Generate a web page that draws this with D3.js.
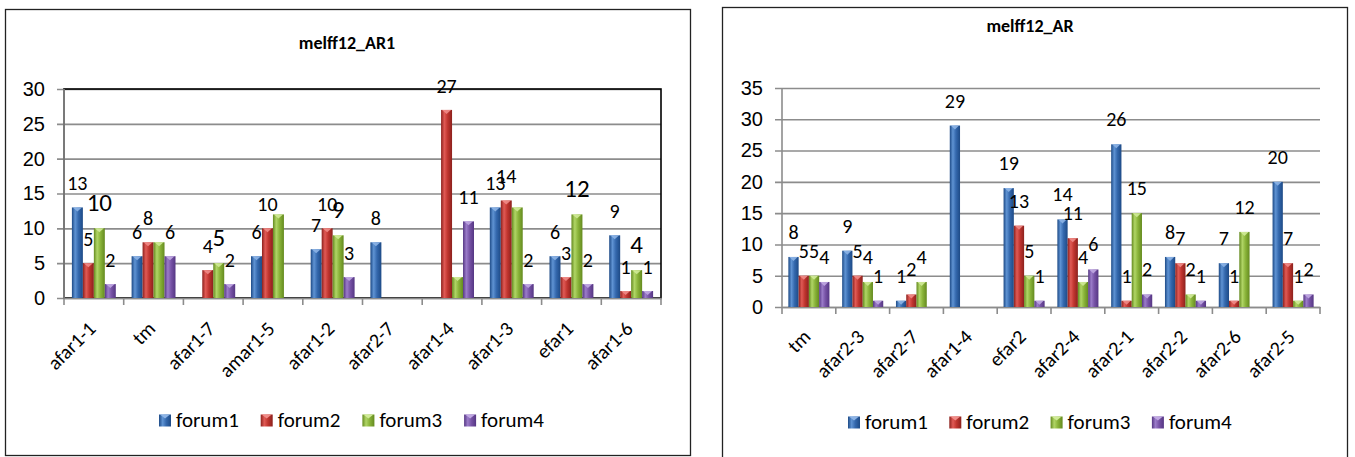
<!DOCTYPE html>
<html><head><meta charset="utf-8">
<script src="https://cdn.jsdelivr.net/npm/d3@7/dist/d3.min.js"></script>
<style>
body{margin:0;background:#fff;}
svg{display:block;font-family:Carlito,Calibri,Lato,"Open Sans",sans-serif;}
</style></head>
<body><svg id="c" width="1355" height="457"></svg>
<script>
// ---------- data ----------
const seriesNames = ["forum1","forum2","forum3","forum4"];

const leftTitle = "melff12_AR1";
const leftCategories = ["afar1-1","tm","afar1-7","amar1-5","afar1-2","afar2-7","afar1-4","afar1-3","efar1","afar1-6"];
const leftForum1 = [13,6,0,6,7,8,0,13,6,9];
const leftForum2 = [5,8,4,10,10,0,27,14,3,1];
const leftForum3 = [10,8,5,12,9,0,3,13,12,4];
const leftForum4 = [2,6,2,0,3,0,11,2,2,1];
const leftTicks = [0,5,10,15,20,25,30];
const leftHiddenLabels = [["tm","forum3"],["amar1-5","forum3"],["afar1-4","forum3"],["afar1-3","forum3"]];

const rightTitle = "melff12_AR";
const rightCategories = ["tm","afar2-3","afar2-7","afar1-4","efar2","afar2-4","afar2-1","afar2-2","afar2-6","afar2-5"];
const rightForum1 = [8,9,1,29,19,14,26,8,7,20];
const rightForum2 = [5,5,2,0,13,11,1,7,1,7];
const rightForum3 = [5,4,4,0,5,4,15,2,12,1];
const rightForum4 = [4,1,0,0,1,6,2,1,0,2];
const rightTicks = [0,5,10,15,20,25,30,35];
const rightHiddenLabels = [];

const colors = {
  forum1:{base:"#3468ad",dark:"#1d4a86",light:"#5f93d3",cap:"#8db4e6"},
  forum2:{base:"#c0352f",dark:"#8c211d",light:"#e05a55",cap:"#f08c88"},
  forum3:{base:"#8ab43a",dark:"#648a1f",light:"#b0d566",cap:"#d0ea98"},
  forum4:{base:"#7753a6",dark:"#553683",light:"#9b7cc9",cap:"#c0a8e2"}
};

const svg = d3.select("#c");
const defs = svg.append("defs");
seriesNames.forEach(s=>{
  const g = defs.append("linearGradient").attr("id","g_"+s).attr("x1","0").attr("x2","1").attr("y1","0").attr("y2","0");
  g.append("stop").attr("offset","0%").attr("stop-color",colors[s].dark);
  g.append("stop").attr("offset","30%").attr("stop-color",colors[s].light);
  g.append("stop").attr("offset","60%").attr("stop-color",colors[s].base);
  g.append("stop").attr("offset","100%").attr("stop-color",colors[s].dark);
});

function drawChart(cfg){
  const g = svg.append("g");
  // frame
  g.append("rect").attr("x",cfg.frame[0]+0.5).attr("y",cfg.frame[1]+0.5)
    .attr("width",cfg.frame[2]-cfg.frame[0]).attr("height",cfg.frame[3]-cfg.frame[1])
    .attr("fill","#fff").attr("stroke","#222").attr("stroke-width",1.3);
  // title
  g.append("text").attr("x",cfg.titleX).attr("y",cfg.titleY).attr("text-anchor","middle")
    .attr("font-weight","bold").attr("font-size",18).attr("fill","#000").text(cfg.title);

  const x = d3.scaleBand().domain(cfg.categories).range([cfg.plot[0],cfg.plot[1]]).padding(0);
  const xs = d3.scaleBand().domain(seriesNames).range([0,x.bandwidth()]).paddingInner(0).paddingOuter(cfg.outer);
  const y = d3.scaleLinear().domain([0,cfg.ticks[cfg.ticks.length-1]]).range([cfg.plot[3],cfg.plot[2]]);

  // gridlines
  const yAxis = d3.axisLeft(y).tickValues(cfg.ticks).tickSize(-(cfg.plot[1]-cfg.plot[0])).tickSizeOuter(0).tickPadding(19);
  const ya = g.append("g").attr("transform",`translate(${cfg.plot[0]},0)`).call(yAxis);
  ya.select(".domain").remove();
  ya.selectAll(".tick line").attr("stroke","#8c8c8c").attr("stroke-width",1.6).attr("x1",-7);
  ya.selectAll(".tick text").attr("font-size",20).attr("fill","#000").attr("font-family",null);

  if(cfg.plotBorder){
    g.append("rect").attr("x",cfg.plot[0]).attr("y",cfg.plot[2])
      .attr("width",cfg.plot[1]-cfg.plot[0]).attr("height",cfg.plot[3]-cfg.plot[2])
      .attr("fill","none").attr("stroke","#000").attr("stroke-width",1.6);
  }
  // y axis line
  g.append("line").attr("x1",cfg.plot[0]).attr("x2",cfg.plot[0]).attr("y1",cfg.plot[2]).attr("y2",cfg.plot[3])
    .attr("stroke","#8c8c8c").attr("stroke-width",1.6);

  // x axis
  const xAxis = d3.axisBottom(x).tickSize(0).tickFormat("");
  const xa = g.append("g").attr("transform",`translate(0,${cfg.plot[3]})`).call(xAxis);
  xa.select(".domain").attr("stroke","#8c8c8c").attr("stroke-width",1.6);
  xa.selectAll(".tick").remove();
  // category boundary ticks
  const bounds = cfg.categories.map(c=>x(c)).concat([cfg.plot[1]]);
  g.selectAll(".bt").data(bounds).enter().append("line")
    .attr("x1",d=>d).attr("x2",d=>d).attr("y1",cfg.plot[3]).attr("y2",cfg.plot[3]+7)
    .attr("stroke","#8c8c8c").attr("stroke-width",1.6);
  // category labels
  g.selectAll(".cl").data(cfg.categories).enter().append("text")
    .attr("transform",d=>`translate(${x(d)+x.bandwidth()/2+cfg.labDx},${cfg.plot[3]+cfg.labDy}) rotate(-45)`)
    .attr("text-anchor","end").attr("font-size",20).attr("fill","#000").text(d=>d);

  // bars
  const rows = [];
  cfg.categories.forEach((c,i)=>seriesNames.forEach((s,j)=>rows.push({c,s,v:cfg.values[j][i]})));
  const bars = g.selectAll(".bar").data(rows.filter(d=>d.v>0)).enter().append("g");
  bars.append("rect")
    .attr("x",d=>x(d.c)+xs(d.s)).attr("y",d=>y(d.v))
    .attr("width",xs.bandwidth()).attr("height",d=>y(0)-y(d.v))
    .attr("fill",d=>`url(#g_${d.s})`);
  bars.append("path")
    .attr("d",d=>{const x0=x(d.c)+xs(d.s), w=xs.bandwidth(), t=y(d.v);
      return `M${x0+1},${t}L${x0+w-1},${t}L${x0+w/2},${t+4}Z`;})
    .attr("fill",d=>colors[d.s].cap).attr("opacity",0.9);

  // value labels
  const hidden = new Set(cfg.hidden.map(h=>h[0]+"|"+h[1]));
  g.selectAll(".vl").data(rows.filter(d=>d.v>0 && !hidden.has(d.c+"|"+d.s))).enter().append("text")
    .attr("x",d=>x(d.c)+xs(d.s)+xs.bandwidth()/2).attr("y",d=>y(d.v)-cfg.labGap)
    .attr("text-anchor","middle").attr("fill","#000")
    .attr("font-size",d=>cfg.bigSeries===d.s?25:20).text(d=>d.v);

  // legend
  const lg = g.selectAll(".lg").data(seriesNames).enter().append("g")
    .attr("transform",(d,i)=>`translate(${cfg.legX+i*cfg.legStep},${cfg.legY})`);
  lg.append("rect").attr("x",0).attr("y",-5.5).attr("width",12).attr("height",12).attr("fill",d=>`url(#g_${d})`);
  lg.append("path").attr("d","M1,-5.5L11,-5.5L6,-1.5Z").attr("fill",d=>colors[d].cap);
  lg.append("text").attr("x",17).attr("y",7).attr("font-size",21).attr("fill","#000").text(d=>d);
}

drawChart({
  frame:[5,9,690,455], title:leftTitle, titleX:347, titleY:49,
  categories:leftCategories, values:[leftForum1,leftForum2,leftForum3,leftForum4],
  ticks:leftTicks, plot:[64,661,89,298], outer:0.72, plotBorder:true,
  hidden:leftHiddenLabels, bigSeries:"forum3", labGap:17, labDx:3, labDy:32,
  legX:159, legY:420, legStep:101.7
});
drawChart({
  frame:[722,7,1347,458], title:rightTitle, titleX:1030, titleY:32,
  categories:rightCategories, values:[rightForum1,rightForum2,rightForum3,rightForum4],
  ticks:rightTicks, plot:[782,1320,88,307], outer:0.62, plotBorder:false,
  hidden:rightHiddenLabels, bigSeries:null, labGap:18, labDx:3, labDy:31,
  legX:848, legY:422, legStep:101.3
});
</script></body></html>
